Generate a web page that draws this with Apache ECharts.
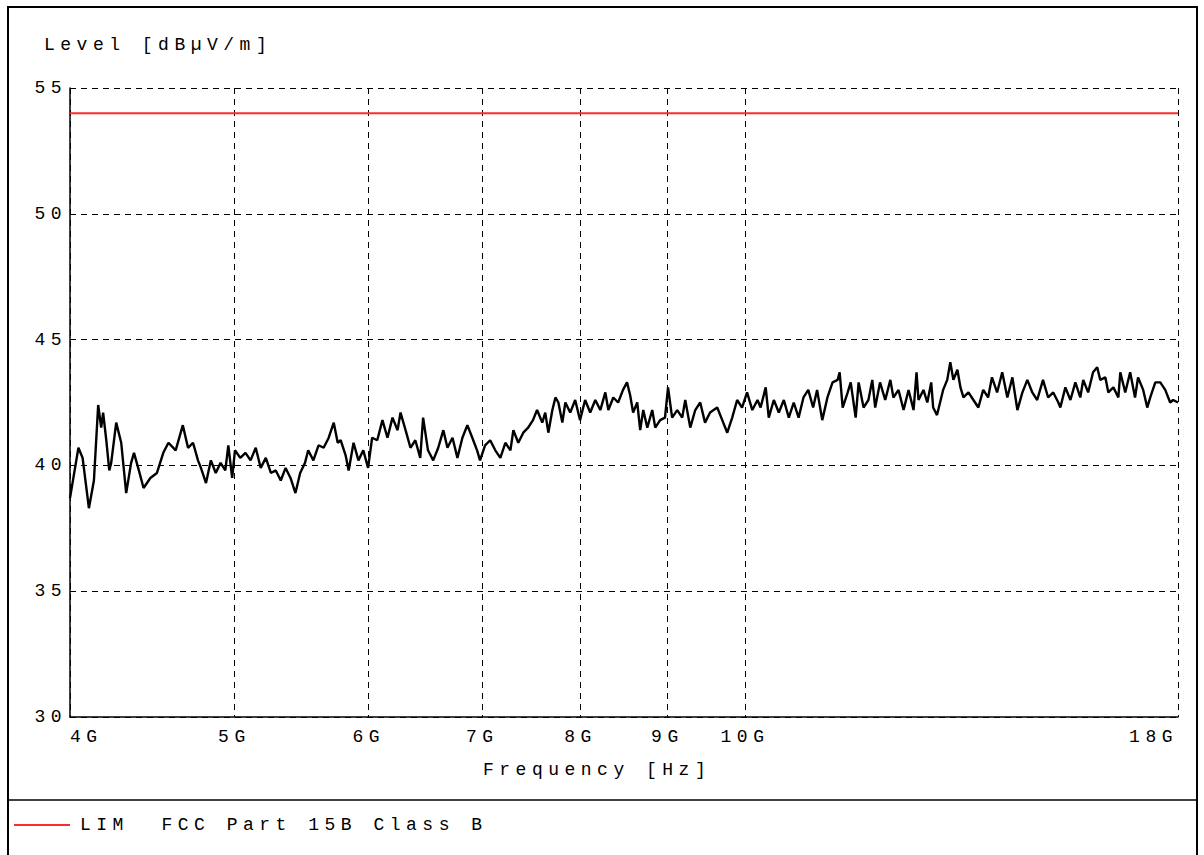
<!DOCTYPE html>
<html><head><meta charset="utf-8">
<script src="https://cdn.jsdelivr.net/npm/echarts@6/dist/echarts.min.js"></script>
<style>
html,body{margin:0;padding:0;background:#fff}
#chart{width:1204px;height:855px}
#chart text{letter-spacing:5.5px;white-space:pre}
</style></head><body><div id="chart"></div>
<script>
// Frequency in GHz
const freqGHz = [
4.000,4.046,4.069,4.104,4.132,4.156,4.173,4.184,4.202,4.219,4.230,4.259,4.288,4.317,4.346,4.363,4.392,4.420,4.461,
4.501,4.540,4.572,4.617,4.662,4.695,4.727,4.759,4.778,4.811,4.843,4.875,4.907,4.939,4.959,4.985,
5.004,5.040,5.076,5.111,5.147,5.182,5.218,5.254,5.289,5.325,5.360,5.396,5.432,5.467,
5.503,5.527,5.566,5.605,5.644,5.683,5.722,5.753,5.776,5.815,5.839,5.878,5.917,5.956,5.995,
6.028,6.070,6.113,6.155,6.197,6.240,6.265,6.308,6.350,6.392,6.435,6.460,
6.503,6.549,6.594,6.640,6.677,6.723,6.768,6.814,6.860,6.906,6.951,6.979,
7.027,7.076,7.125,7.174,7.223,7.273,7.302,7.351,7.401,7.450,7.499,
7.541,7.594,7.625,7.657,7.699,7.731,7.762,7.804,7.836,7.888,7.941,7.994,
8.049,8.105,8.161,8.217,8.273,8.307,8.363,8.418,8.474,
8.520,8.556,8.591,8.639,8.674,8.710,8.758,8.817,8.853,8.912,8.971,
9.008,9.058,9.121,9.183,9.221,9.284,9.347,9.410,9.472,
9.537,9.630,9.696,9.762,9.828,9.894,9.960,
10.028,10.100,10.171,10.214,10.285,10.328,10.399,10.470,10.541,10.613,10.684,10.755,10.826,10.897,10.969,
11.028,11.106,11.184,11.262,11.340,11.371,11.418,11.496,11.543,11.621,11.668,11.746,11.824,11.886,11.933,
12.012,12.097,12.181,12.232,12.317,12.402,12.486,12.571,12.622,12.656,12.741,12.808,12.876,12.910,12.978,
13.086,13.159,13.214,13.269,13.342,13.397,13.452,13.544,13.635,13.727,13.818,13.910,13.983,
14.081,14.179,14.278,14.376,14.474,14.573,14.671,14.770,14.868,14.986,
15.091,15.196,15.301,15.343,15.448,15.554,15.659,15.764,15.827,15.933,
16.040,16.130,16.197,16.309,16.376,16.488,16.600,16.644,16.756,16.868,16.980,
17.050,17.169,17.264,17.335,17.454,17.572,17.691,17.810,17.881,18.000
];
// Measured level in dBµV/m
const levelDb = [
38.7,40.7,40.3,38.3,39.4,42.4,41.5,42.1,41.0,39.8,40.1,41.7,40.9,38.9,40.1,40.5,39.8,39.1,39.5,
39.7,40.5,40.9,40.6,41.6,40.7,40.9,40.2,39.9,39.3,40.2,39.7,40.1,39.8,40.8,39.5,
40.6,40.3,40.5,40.2,40.7,39.9,40.3,39.7,39.8,39.4,39.9,39.5,38.9,39.7,
40.1,40.6,40.2,40.8,40.7,41.1,41.7,40.9,41.0,40.4,39.8,40.9,40.2,40.6,39.9,
41.1,41.0,41.8,41.1,41.9,41.4,42.1,41.4,40.7,41.0,40.3,41.9,
40.6,40.2,40.7,41.4,40.7,41.1,40.3,41.1,41.6,41.1,40.6,40.2,
40.8,41.0,40.6,40.3,40.9,40.6,41.4,40.9,41.3,41.5,41.8,
42.2,41.7,42.1,41.3,42.2,42.7,42.5,41.7,42.5,42.1,42.6,41.8,
42.6,42.1,42.6,42.2,42.9,42.2,42.7,42.5,43.0,
43.3,42.8,42.1,42.5,41.4,42.2,41.5,42.2,41.5,41.8,41.9,
43.1,41.9,42.2,41.9,42.6,41.5,42.2,42.5,41.7,
42.1,42.3,41.8,41.3,41.9,42.6,42.3,
42.9,42.2,42.6,42.3,43.1,41.9,42.6,42.1,42.6,41.9,42.5,41.9,42.7,43.0,42.3,
43.0,41.8,42.7,43.3,43.4,43.7,42.3,42.9,43.3,41.9,43.3,42.3,42.6,43.4,42.3,
43.3,42.6,43.4,42.7,43.0,42.2,43.0,42.2,43.7,42.6,43.0,42.5,43.3,42.3,42.0,
43.0,43.4,44.1,43.4,43.8,43.1,42.7,42.9,42.6,42.3,43.0,42.7,43.5,
42.9,43.7,42.7,43.5,42.2,42.9,43.4,42.9,42.6,43.4,
42.7,42.9,42.5,42.3,43.1,42.6,43.3,42.7,43.4,42.9,
43.7,43.9,43.4,43.5,42.9,43.1,42.7,43.7,42.9,43.7,42.7,
43.5,43.0,42.3,42.7,43.3,43.3,43.0,42.5,42.6,42.5
];
const limitFreq = [4, 18];
const limitLevel = [54, 54];
const xTickValues = [4, 5, 6, 7, 8, 9, 10, 18];
const yMin = 30, yMax = 55, yStep = 5;
const yTitle = 'Level [dBµV/m]';
const xTitle = 'Frequency [Hz]';
const limitName = 'LIM  FCC Part 15B Class B';

const FONT = "'Liberation Mono', 'DejaVu Sans Mono', monospace";
const txt = {fontFamily: FONT, fontSize: 18, color: '#000', fontWeight: 'normal'};
const n = Math.min(freqGHz.length, levelDb.length);
const traceData = [];
for (let i = 0; i < n; i++) traceData.push([freqGHz[i], levelDb[i]]);
const limitData = limitFreq.map((f, i) => [f, limitLevel[i]]);
const gridLine = {show: true, lineStyle: {color: '#000', width: 1, type: [6, 5]}};

const chart = echarts.init(document.getElementById('chart'), null, {renderer: 'svg'});
chart.setOption({
  animation: false,
  backgroundColor: '#fff',
  title: [
    {text: yTitle, left: 44, top: 35, padding: 0, textStyle: Object.assign({}, txt, {lineHeight: 20})},
    {text: xTitle, left: 483, top: 760, padding: 0, textStyle: Object.assign({}, txt, {lineHeight: 20})}
  ],
  legend: {
    data: [limitName], left: 14, top: 815, icon: 'rect', itemWidth: 56, itemHeight: 2,
    selectedMode: false, padding: 0,
    textStyle: Object.assign({}, txt, {lineHeight: 20, padding: [0, 0, 0, 5]})
  },
  grid: {left: 70, right: 26, top: 88, bottom: 138},
  xAxis: {
    type: 'log', logBase: 10, min: limitFreq[0], max: limitFreq[1],
    axisLine: {show: true, onZero: false, lineStyle: {color: '#000', width: 1.5}},
    axisTick: {show: false, customValues: xTickValues},
    axisLabel: Object.assign({}, txt, {customValues: xTickValues, formatter: v => Math.round(v) + 'G',
      margin: 11, alignMinLabel: 'left', alignMaxLabel: 'right', showMinLabel: true, showMaxLabel: true}),
    splitLine: gridLine
  },
  yAxis: {
    type: 'value', min: yMin, max: yMax, interval: yStep,
    axisLine: {show: true, lineStyle: {color: '#000', width: 1.5}},
    axisTick: {show: false},
    axisLabel: Object.assign({}, txt, {margin: 3}),
    splitLine: gridLine
  },
  series: [
    {name: 'Level', type: 'line', data: traceData, showSymbol: false, silent: true,
     lineStyle: {color: '#000', width: 2.4}, itemStyle: {color: '#000'}, z: 3},
    {name: limitName, type: 'line', data: limitData, showSymbol: false, silent: true,
     lineStyle: {color: '#ff2a2a', width: 2}, itemStyle: {color: '#ff2a2a'}, z: 4}
  ],
  graphic: [
    {type: 'rect', shape: {x: 8, y: 7, width: 1189, height: 870}, style: {fill: 'none', stroke: '#000', lineWidth: 2}, silent: true},
    {type: 'line', shape: {x1: 8, y1: 800, x2: 1197, y2: 800}, style: {stroke: '#000', lineWidth: 1.5}, silent: true}
  ]
});
</script></body></html>
